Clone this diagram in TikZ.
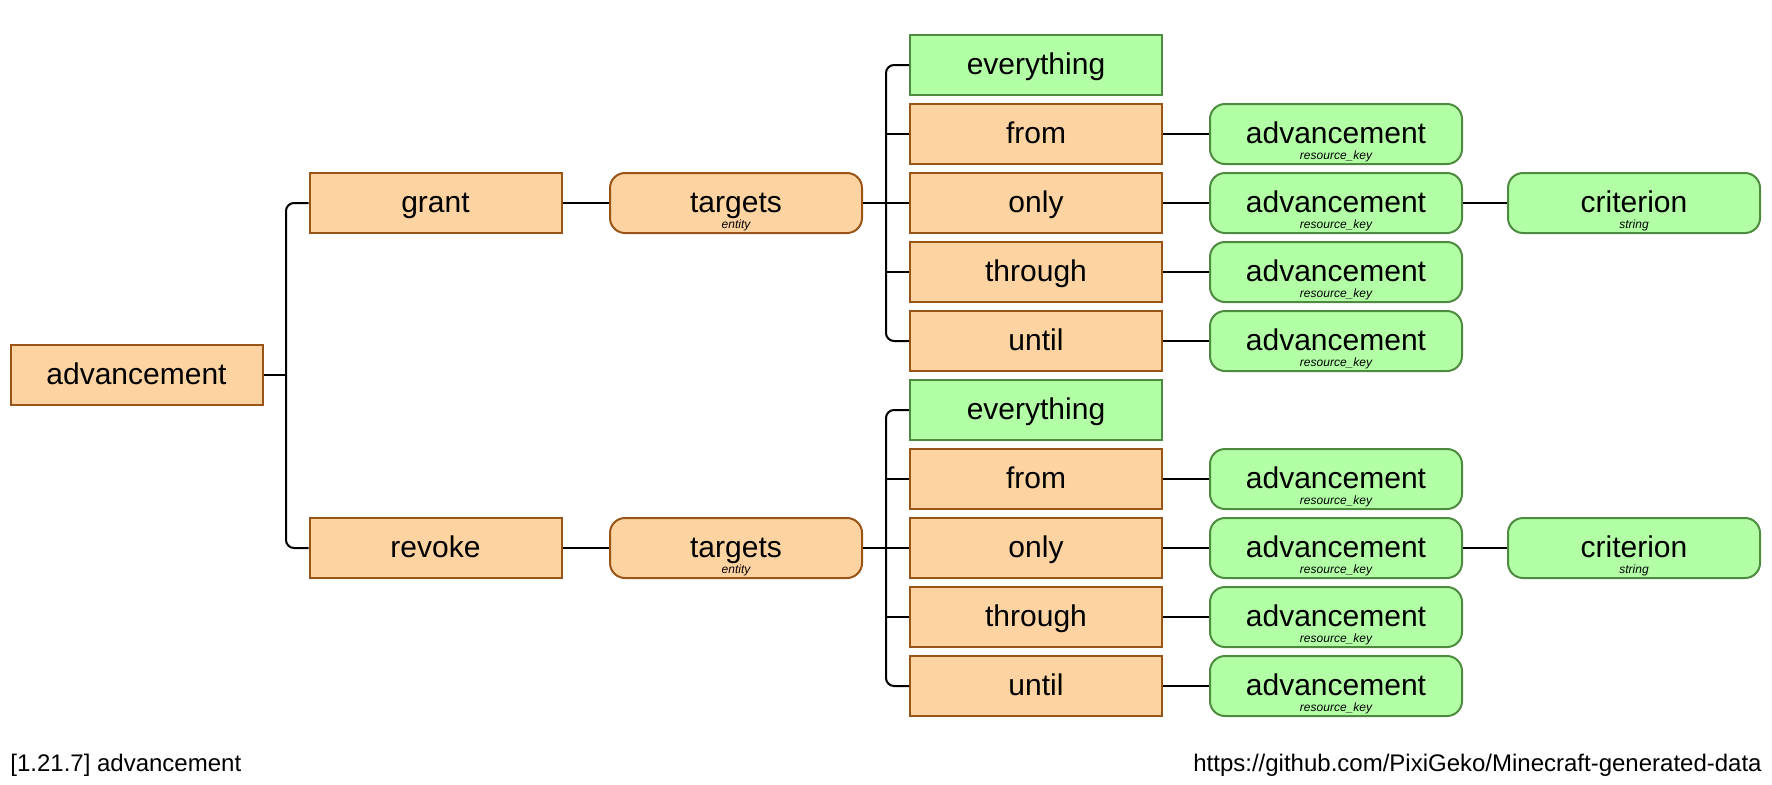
\documentclass[tikz,border=0pt]{standalone}
\usepackage{fontspec}
\setmainfont{Liberation Sans}
\definecolor{contfill}{RGB}{254,211,162}
\definecolor{contdraw}{RGB}{153,84,24}
\definecolor{execfill}{RGB}{178,255,166}
\definecolor{execdraw}{RGB}{77,140,63}
\begin{document}
\begin{tikzpicture}[x=0.5pt,y=-0.5pt]
        \tikzstyle{literal}=[rectangle,line width=1pt,draw=contdraw,fill=contfill,minimum width=126pt,minimum height=30pt,inner sep=0pt,text height=10pt,text depth=1pt,font=\fontsize{15}{18}\selectfont]
        \tikzstyle{execliteral}=[literal,draw=execdraw,fill=execfill]
        \tikzstyle{argument}=[literal,rounded corners=7.5pt]
        \tikzstyle{execargument}=[argument,draw=execdraw,fill=execfill]
        \tikzstyle{argtype}=[anchor=base,inner sep=0pt,font=\fontsize{6}{7}\selectfont\itshape]
        \tikzstyle{edge}=[draw=black,line width=1pt]
        \tikzstyle{branch}=[edge,rounded corners=4pt]
        \tikzstyle{footer}=[inner sep=0pt,font=\fontsize{12}{14}\selectfont]
        \useasboundingbox (0,0) rectangle (1772,784);
       \begin{scope}

         % root and subcommands
         \node [literal] (root) at (136.5,375) {advancement};
         \node [literal] (grant) at (435.5,203) {grant};
         \node [literal] (revoke) at (435.5,548) {revoke};

         % grant branch
         \node [argument] (gtargets) at (736,203) {targets};
         \node [argtype] (gtargets-t) at ([yshift=-12.5pt]gtargets.center) {entity};
         \node [execliteral] (geverything) at (1036,65) {everything};
         \node [literal] (gfrom) at (1036,134) {from};
         \node [literal] (gonly) at (1036,203) {only};
         \node [literal] (gthrough) at (1036,272) {through};
         \node [literal] (guntil) at (1036,341) {until};
         \node [execargument] (gfromadv) at (1336,134) {advancement};
         \node [argtype] (gfromadv-t) at ([yshift=-12.5pt]gfromadv.center) {resource\_key};
         \node [execargument] (gonlyadv) at (1336,203) {advancement};
         \node [argtype] (gonlyadv-t) at ([yshift=-12.5pt]gonlyadv.center) {resource\_key};
         \node [execargument] (gthroughadv) at (1336,272) {advancement};
         \node [argtype] (gthroughadv-t) at ([yshift=-12.5pt]gthroughadv.center) {resource\_key};
         \node [execargument] (guntiladv) at (1336,341) {advancement};
         \node [argtype] (guntiladv-t) at ([yshift=-12.5pt]guntiladv.center) {resource\_key};
         \node [execargument] (gcrit) at (1634,203) {criterion};
         \node [argtype] (gcrit-t) at ([yshift=-12.5pt]gcrit.center) {string};

         % revoke branch
         \node [argument] (rtargets) at (736,548) {targets};
         \node [argtype] (rtargets-t) at ([yshift=-12.5pt]rtargets.center) {entity};
         \node [execliteral] (reverything) at (1036,410) {everything};
         \node [literal] (rfrom) at (1036,479) {from};
         \node [literal] (ronly) at (1036,548) {only};
         \node [literal] (rthrough) at (1036,617) {through};
         \node [literal] (runtil) at (1036,686) {until};
         \node [execargument] (rfromadv) at (1336,479) {advancement};
         \node [argtype] (rfromadv-t) at ([yshift=-12.5pt]rfromadv.center) {resource\_key};
         \node [execargument] (ronlyadv) at (1336,548) {advancement};
         \node [argtype] (ronlyadv-t) at ([yshift=-12.5pt]ronlyadv.center) {resource\_key};
         \node [execargument] (rthroughadv) at (1336,617) {advancement};
         \node [argtype] (rthroughadv-t) at ([yshift=-12.5pt]rthroughadv.center) {resource\_key};
         \node [execargument] (runtiladv) at (1336,686) {advancement};
         \node [argtype] (runtiladv-t) at ([yshift=-12.5pt]runtiladv.center) {resource\_key};
         \node [execargument] (rcrit) at (1634,548) {criterion};
         \node [argtype] (rcrit-t) at ([yshift=-12.5pt]rcrit.center) {string};

         % junctions
         \coordinate (rootj) at (286,375);
         \coordinate (gj) at (886,203);
         \coordinate (rj) at (886,548);

 		\path[edge] (root.east) -- (rootj);
 		\path[branch] (rootj) |- (grant.west);
 		\path[branch] (rootj) |- (revoke.west);

 		\path[edge] (grant) -- (gtargets);
 		\path[edge] (gtargets.east) -- (gj);
 		\path[branch] (gj) |- (geverything.west);
 		\path[branch] (gj) |- (guntil.west);
 		\path[edge] (gj |- gfrom.west) -- (gfrom.west);
 		\path[edge] (gj) -- (gonly.west);
 		\path[edge] (gj |- gthrough.west) -- (gthrough.west);
 		\path[edge] (gfrom) -- (gfromadv);
 		\path[edge] (gonly) -- (gonlyadv);
 		\path[edge] (gthrough) -- (gthroughadv);
 		\path[edge] (guntil) -- (guntiladv);
 		\path[edge] (gonlyadv) -- (gcrit);

 		\path[edge] (revoke) -- (rtargets);
 		\path[edge] (rtargets.east) -- (rj);
 		\path[branch] (rj) |- (reverything.west);
 		\path[branch] (rj) |- (runtil.west);
 		\path[edge] (rj |- rfrom.west) -- (rfrom.west);
 		\path[edge] (rj) -- (ronly.west);
 		\path[edge] (rj |- rthrough.west) -- (rthrough.west);
 		\path[edge] (rfrom) -- (rfromadv);
 		\path[edge] (ronly) -- (ronlyadv);
 		\path[edge] (rthrough) -- (rthroughadv);
 		\path[edge] (runtil) -- (runtiladv);
 		\path[edge] (ronlyadv) -- (rcrit);

         % footer
         \node [footer,anchor=base west] (version) at (10,771) {[1.21.7] advancement};
         \node [footer,anchor=base east] (source) at (1762,771) {https://github.com/PixiGeko/Minecraft-generated-data};

        \end{scope}
      \end{tikzpicture}
\end{document}
